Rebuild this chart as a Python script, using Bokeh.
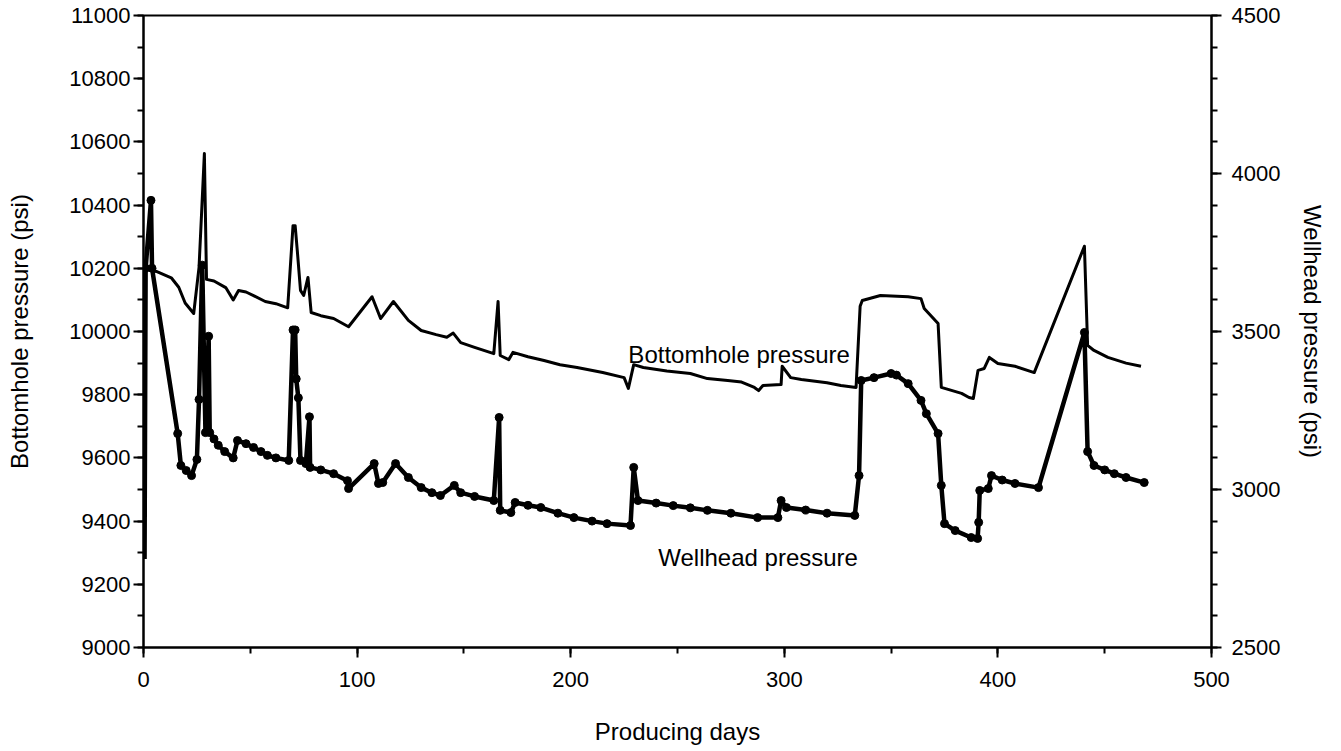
from bokeh.plotting import figure
from bokeh.models import (Range1d, LinearAxis, SingleIntervalTicker, Label)
from bokeh.embed import file_html
from bokeh.resources import INLINE

# Bottomhole pressure history (psi) against producing days
bhp_days = [0, 6, 13, 16.5, 19.5, 23.5, 26, 28.5, 29.5, 33, 38.5, 42, 44.5, 48, 52, 57,
            62, 67.5, 70, 71, 72, 73.5, 75, 77, 78.5, 83, 89, 96, 107, 111, 117, 124,
            130, 137, 142, 145, 148.5, 155, 164, 166, 167, 171, 173, 180, 187.5, 195,
            203, 215, 225, 227, 229.5, 234, 245, 256, 264, 273.5, 280, 286, 288, 290,
            298.5, 299, 303, 308, 320, 326.5, 333.6, 335.5, 336.5, 345, 358, 364,
            365.5, 372, 373.5, 383, 386.5, 388.5, 390.7, 393.6, 396, 400, 408, 417,
            440.5, 442, 445, 451.5, 460, 467]
bhp_psi = [10200, 10190, 10170, 10140, 10090, 10057, 10203, 10563, 10165, 10160, 10139,
           10100, 10130, 10125, 10112, 10095, 10088, 10075, 10335, 10335, 10256, 10130,
           10114, 10171, 10060, 10050, 10041, 10015, 10110, 10041, 10095, 10035, 10003,
           9990, 9982, 9995, 9965, 9950, 9930, 10095, 9924, 9911, 9934, 9920, 9908,
           9895, 9886, 9870, 9854, 9820, 9895, 9886, 9875, 9867, 9851, 9845, 9840, 9823,
           9813, 9829, 9832, 9890, 9854, 9848, 9838, 9829, 9823, 10080, 10098, 10114,
           10110, 10104, 10073, 10025, 9823, 9804, 9791, 9788, 9877, 9883, 9918, 9899,
           9890, 9870, 10270, 9956, 9940, 9918, 9900, 9890]

# Wellhead pressure history (psi) against producing days; the first reading is
# the shut-in value before the well was opened
whp_days = [0.5, 1, 3.5, 4, 16, 17.5, 20, 22.5, 25, 26, 27.5, 29, 30.5, 31, 33, 35, 38,
            42, 44, 48, 51.5, 55, 58, 62, 68, 70, 71, 71.5, 72.5, 73.5, 76, 77.7, 78, 83,
            89, 95.5, 96, 108, 110, 112, 118, 124, 130, 135, 139, 145.5, 148.5, 155, 164,
            166.5, 167, 172, 174, 180, 186, 194, 201.5, 210, 217, 228, 229.5, 231.5, 240,
            248, 256, 264, 275, 287.5, 297, 298.5, 301, 310, 320, 333, 335, 336, 342, 350,
            352.5, 358, 364, 366.5, 372, 373.5, 375, 380, 387.5, 390.5, 391, 391.5, 395.5,
            397, 402, 408, 419, 440.5, 442, 445, 450, 454.5, 460, 468.5]
whp_psi = [2780, 3700, 3915, 3700, 3177, 3076, 3060, 3044, 3095, 3285, 3710, 3180, 3485,
           3180, 3160, 3140, 3120, 3100, 3155, 3145, 3133, 3120, 3108, 3100, 3092, 3505,
           3505, 3350, 3290, 3092, 3082, 3230, 3070, 3062, 3050, 3028, 3003, 3082, 3019,
           3022, 3082, 3038, 3006, 2990, 2981, 3013, 2990, 2978, 2965, 3228, 2934, 2927,
           2959, 2950, 2943, 2925, 2911, 2900, 2892, 2886, 3070, 2965, 2957, 2949, 2942,
           2934, 2925, 2911, 2911, 2965, 2943, 2935, 2925, 2918, 3044, 3345, 3354, 3367,
           3362, 3335, 3282, 3240, 3177, 3013, 2892, 2870, 2848, 2845, 2896, 2997, 3003,
           3044, 3030, 3019, 3006, 3497, 3120, 3076, 3062, 3050, 3038, 3022]

FONT = "Liberation Sans"

p = figure(width=1341, height=751, output_backend="svg", toolbar_location=None,
           x_range=Range1d(0, 500), y_range=Range1d(9000, 11000),
           min_border_left=143, min_border_right=130, min_border_top=15,
           min_border_bottom=104, x_axis_type=None, y_axis_type=None)
p.extra_y_ranges = {"wh": Range1d(2500, 4500)}
p.xgrid.visible = False
p.ygrid.visible = False
p.outline_line_color = "black"
p.outline_line_width = 2
p.background_fill_color = "white"
p.border_fill_color = "white"


def style_axis(ax, label_standoff, axis_standoff):
    ax.axis_line_width = 2
    ax.axis_line_color = "black"
    ax.major_tick_line_width = 2
    ax.minor_tick_line_width = 2
    ax.major_tick_out = 10
    ax.major_tick_in = 0
    ax.minor_tick_out = 6
    ax.minor_tick_in = 0
    ax.major_label_text_font = FONT
    ax.major_label_text_font_size = "22px"
    ax.major_label_text_color = "black"
    ax.major_label_standoff = label_standoff
    ax.axis_label_text_font = FONT
    ax.axis_label_text_font_size = "24px"
    ax.axis_label_text_font_style = "normal"
    ax.axis_label_text_color = "black"
    ax.axis_label_standoff = axis_standoff


xaxis = LinearAxis(ticker=SingleIntervalTicker(interval=100, num_minor_ticks=2),
                   axis_label="Producing days")
style_axis(xaxis, 14, 28)
p.add_layout(xaxis, "below")

yaxis = LinearAxis(ticker=SingleIntervalTicker(interval=200, num_minor_ticks=2),
                   axis_label="Bottomhole pressure (psi)")
style_axis(yaxis, 3, 33)
p.add_layout(yaxis, "left")

raxis = LinearAxis(y_range_name="wh",
                   ticker=SingleIntervalTicker(interval=500, num_minor_ticks=5),
                   axis_label="Wellhead pressure (psi)")
style_axis(raxis, 10, 16)
p.add_layout(raxis, "right")

# Bottomhole pressure: plain line
p.line(bhp_days, bhp_psi, line_color="black", line_width=3, line_join="round")

# Wellhead pressure: heavy line with point markers on the flowing readings
p.line(whp_days, whp_psi, y_range_name="wh", line_color="black", line_width=4.5,
       line_join="round")
p.scatter(whp_days[1:], whp_psi[1:], y_range_name="wh", marker="circle", size=8,
          fill_color="black", line_color="black")

# Curve labels
p.add_layout(Label(x=227, y=9927, text="Bottomhole pressure", text_font=FONT,
                   text_font_size="24px", text_color="black",
                   text_baseline="alphabetic"))
p.add_layout(Label(x=241, y=9285, text="Wellhead pressure", text_font=FONT,
                   text_font_size="24px", text_color="black",
                   text_baseline="alphabetic"))

open("out.html", "w").write(file_html(p, INLINE))
